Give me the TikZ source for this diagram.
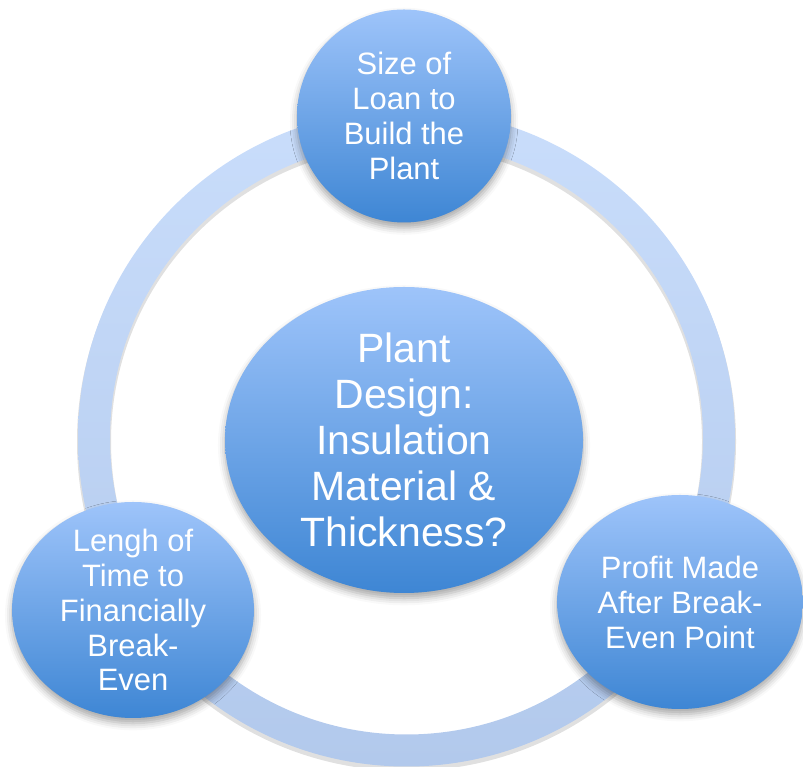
\documentclass[tikz,border=0pt]{standalone}
\usepackage{fontspec}
\setmainfont{Liberation Sans}
\usepackage{xcolor}
\usetikzlibrary{
  shapes.geometric,
  shadows.blur
}
\tikzset{every picture/.style={line width=0.75pt}}

\definecolor{bubbletop}{RGB}{158,196,250}
\definecolor{bubblemid}{RGB}{126,176,239}
\definecolor{bubblebot}{RGB}{62,134,212}
\definecolor{ringtop}{RGB}{201,221,251}
\definecolor{ringbot}{RGB}{178,201,236}

\tikzset{
  bubble/.style={ellipse, inner xsep=0pt, inner ysep=-4pt,
    top color=bubbletop, middle color=bubblemid, bottom color=bubblebot,
    text=white, align=center,
    blur shadow={shadow xshift=0pt, shadow yshift=-3pt,
      shadow blur radius=4pt, shadow opacity=35}},
  smalltext/.style={font=\fontsize{17.6}{19.9}\selectfont},
  bigtext/.style={font=\fontsize{23.3}{26.2}\selectfont}
}

\begin{document}
\begin{tikzpicture}
\useasboundingbox (0,0) rectangle (16.06,15.34);

% Cycle ring behind the bubbles, with a soft shadow under it
\coordinate (hub) at (8.13,6.58);
\fill[black, opacity=0.12, even odd rule]
  ([yshift=-2pt]hub) circle (6.59) ([yshift=-2pt]hub) circle (5.91);
\shade[top color=ringtop, bottom color=ringbot, even odd rule]
  (hub) circle (6.57) (hub) circle (5.93);

% Centre question
\node[bubble, bigtext, minimum width=7.16cm, minimum height=6.12cm] (design) at (8.08,6.54)
  {Plant\\Design:\\Insulation\\Material \&\\Thickness?};

% Three factors around the ring
\node[bubble, smalltext, minimum width=4.28cm, minimum height=4.26cm] (loan) at (8.08,13.02)
  {Size of\\Loan to\\Build the\\Plant};
\node[bubble, smalltext, minimum width=4.84cm, minimum height=4.32cm] (time) at (2.66,3.14)
  {Lengh of\\Time to\\Financially\\Break-\\Even};
\node[bubble, smalltext, minimum width=4.92cm, minimum height=4.28cm] (profit) at (13.6,3.3)
  {Profit Made\\After Break-\\Even Point};
\end{tikzpicture}
\end{document}
